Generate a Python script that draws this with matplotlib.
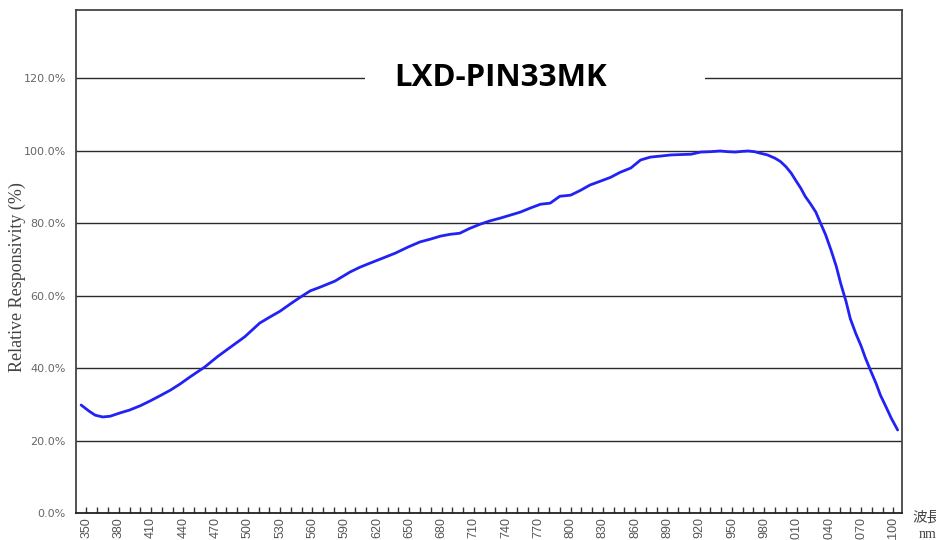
import matplotlib
matplotlib.use("Agg")
import matplotlib.pyplot as plt
from matplotlib.patches import Rectangle
import numpy as np

# spectral response
wavelength = [345, 352, 358, 365, 372, 381, 390, 400, 409, 418, 428, 437, 446,
              460, 472, 484, 497, 511, 520, 530, 540, 549, 558, 567, 581, 595,
              604, 614, 626, 637, 649, 660, 670, 679, 688, 697, 706, 716, 725,
              735, 744, 753, 763, 772, 781, 790, 800, 809, 818, 828, 837, 846,
              856, 865, 874, 884, 893, 902, 912, 921, 930, 939, 946, 953, 960,
              965, 971, 976, 983, 990, 995, 1000, 1005, 1009, 1014, 1018, 1023,
              1028, 1032, 1037, 1042, 1047, 1051, 1056, 1060, 1065, 1070, 1074,
              1079, 1084, 1088, 1093, 1098, 1104]
responsivity = [29.8, 28.2, 27.0, 26.5, 26.7, 27.6, 28.4, 29.6, 30.9, 32.3,
                33.9, 35.6, 37.5, 40.3, 43.2, 45.8, 48.6, 52.4, 54.0, 55.7,
                57.8, 59.6, 61.3, 62.3, 64.0, 66.5, 67.8, 69.0, 70.4, 71.7,
                73.4, 74.8, 75.6, 76.4, 76.9, 77.2, 78.5, 79.7, 80.6, 81.4,
                82.2, 83.0, 84.2, 85.2, 85.5, 87.4, 87.7, 89.0, 90.5, 91.6,
                92.6, 94.0, 95.2, 97.4, 98.2, 98.5, 98.8, 98.9, 99.0, 99.6,
                99.7, 99.9, 99.7, 99.6, 99.8, 99.9, 99.7, 99.3, 98.8, 97.9,
                97.0, 95.6, 93.8, 91.9, 89.6, 87.4, 85.3, 83.0, 80.2, 76.8,
                72.6, 68.0, 63.4, 58.4, 53.6, 49.6, 46.1, 42.8, 39.2, 35.7,
                32.5, 29.4, 26.2, 22.9]

y_ticks = [0, 20, 40, 60, 80, 100, 120]
x_labels = list(range(350, 1101, 30))
x_minor = list(range(350, 1101, 10))

fig = plt.figure(figsize=(9.37, 5.40), dpi=100)
fig.patch.set_facecolor("white")
ax = fig.add_axes([0.0806, 0.05, 0.882, 0.9315])

# horizontal grid lines
for yv in y_ticks[1:]:
    ax.axhline(yv, color="#2a2a2a", lw=1.0, zorder=1)

ax.plot(wavelength, responsivity, color="#2222f5", lw=2.0,
        solid_capstyle="round", solid_joinstyle="round", zorder=4)

ax.set_xlim(339.8, 1108)
ax.set_ylim(0, 138.8)

ax.set_xticks(x_minor, minor=True)
ax.set_xticks(x_labels)
ax.set_xticklabels([str(v) for v in x_labels], rotation=90, fontsize=9,
                   color="#555555", family="Liberation Sans")
ax.tick_params(axis="x", which="both", direction="in", length=4,
               width=1.0, color="#333333", pad=3)
ax.set_yticks(y_ticks)
ax.set_yticklabels([f"{v:.1f}%" for v in y_ticks], fontsize=8,
                   color="#666666", family="DejaVu Sans")
ax.tick_params(axis="y", length=0, pad=7)

for s in ax.spines.values():
    s.set_color("#444444")
    s.set_linewidth(1.3)
ax.spines["bottom"].set_color("#222222")

ax.set_ylabel("Relative Responsivity (%)", family="Liberation Serif",
              fontsize=13, color="#444444", labelpad=2)
ax.yaxis.set_label_coords(-0.06, 0.47)

# title sitting on the 120% line, with a white gap behind it
ax.add_patch(Rectangle((0.35, 0.84), 0.412, 0.05, transform=ax.transAxes,
                       facecolor="white", edgecolor="none", zorder=2))
ax.text(0.514, 120, "LXD-PIN33MK", transform=ax.get_yaxis_transform(),
        ha="center", va="center", fontsize=22.5, fontweight="bold",
        family="Open Sans", color="black", zorder=5)

fig.text(912 / 937, 1 - 518 / 540, "波長", family=["Noto Sans CJK JP", "DejaVu Sans"],
         fontsize=10.5, color="#444444", ha="left", va="center")
fig.text(919 / 937, 1 - 534 / 540, "nm", family="Liberation Serif",
         fontsize=10, color="#444444", ha="left", va="center")

fig.savefig("out.png", dpi=100, facecolor="white")
